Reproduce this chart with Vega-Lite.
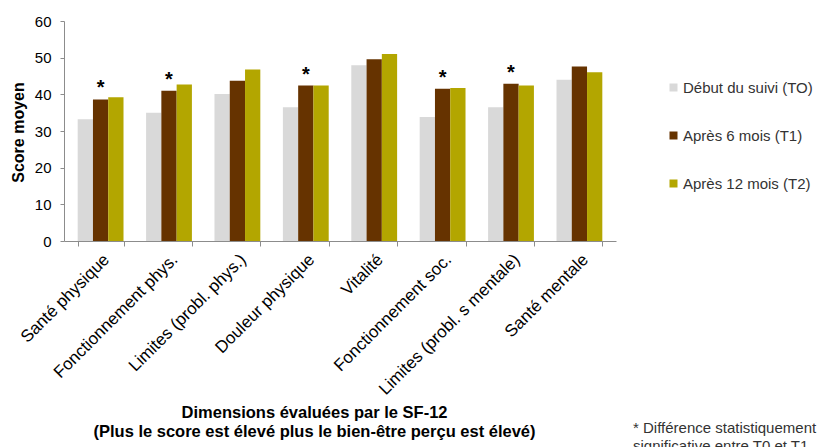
{
  "$schema": "https://vega.github.io/schema/vega-lite/v6.json",
  "width": 552,
  "height": 220,
  "autosize": {"type": "none"},
  "padding": {"left": 64, "top": 21, "right": 215, "bottom": 206},
  "background": "white",
  "config": {"font": "Liberation Sans", "view": {"stroke": null}},
  "title": {
    "text": ["* Différence statistiquement", "\u00a0\u00a0significative entre T0 et T1"],
    "orient": "bottom",
    "anchor": "start",
    "frame": "group",
    "align": "left",
    "dx": 569,
    "offset": -19,
    "fontSize": 15,
    "fontWeight": "normal",
    "color": "#333333",
    "lineHeight": 18
  },
  "data": {
    "values": [
      {"dim": "Santé physique", "temps": "Début du suivi (TO)", "score": 33.2, "sig": ""},
      {"dim": "Santé physique", "temps": "Après 6 mois (T1)", "score": 38.6, "sig": "*"},
      {"dim": "Santé physique", "temps": "Après 12 mois  (T2)", "score": 39.2, "sig": ""},
      {"dim": "Fonctionnement phys.", "temps": "Début du suivi (TO)", "score": 35.0, "sig": ""},
      {"dim": "Fonctionnement phys.", "temps": "Après 6 mois (T1)", "score": 41.0, "sig": "*"},
      {"dim": "Fonctionnement phys.", "temps": "Après 12 mois  (T2)", "score": 42.7, "sig": ""},
      {"dim": "Limites (probl. phys.)", "temps": "Début du suivi (TO)", "score": 40.1, "sig": ""},
      {"dim": "Limites (probl. phys.)", "temps": "Après 6 mois (T1)", "score": 43.7, "sig": ""},
      {"dim": "Limites (probl. phys.)", "temps": "Après 12 mois  (T2)", "score": 46.8, "sig": ""},
      {"dim": "Douleur physique", "temps": "Début du suivi (TO)", "score": 36.5, "sig": ""},
      {"dim": "Douleur physique", "temps": "Après 6 mois (T1)", "score": 42.4, "sig": "*"},
      {"dim": "Douleur physique", "temps": "Après 12 mois  (T2)", "score": 42.4, "sig": ""},
      {"dim": "Vitalité", "temps": "Début du suivi (TO)", "score": 47.9, "sig": ""},
      {"dim": "Vitalité", "temps": "Après 6 mois (T1)", "score": 49.6, "sig": ""},
      {"dim": "Vitalité", "temps": "Après 12 mois  (T2)", "score": 51.0, "sig": ""},
      {"dim": "Fonctionnement soc.", "temps": "Début du suivi (TO)", "score": 33.8, "sig": ""},
      {"dim": "Fonctionnement soc.", "temps": "Après 6 mois (T1)", "score": 41.5, "sig": "*"},
      {"dim": "Fonctionnement soc.", "temps": "Après 12 mois  (T2)", "score": 41.7, "sig": ""},
      {"dim": "Limites (probl. s mentale)", "temps": "Début du suivi (TO)", "score": 36.5, "sig": ""},
      {"dim": "Limites (probl. s mentale)", "temps": "Après 6 mois (T1)", "score": 42.9, "sig": "*"},
      {"dim": "Limites (probl. s mentale)", "temps": "Après 12 mois  (T2)", "score": 42.4, "sig": ""},
      {"dim": "Santé mentale", "temps": "Début du suivi (TO)", "score": 44.0, "sig": ""},
      {"dim": "Santé mentale", "temps": "Après 6 mois (T1)", "score": 47.6, "sig": ""},
      {"dim": "Santé mentale", "temps": "Après 12 mois  (T2)", "score": 46.0, "sig": ""}
    ]
  },
  "encoding": {
    "x": {
      "field": "dim",
      "type": "nominal",
      "sort": null,
      "scale": {"paddingInner": 0.33, "paddingOuter": 0.2},
      "axis": {
        "labelAngle": -45,
        "labelFontSize": 17,
        "labelColor": "#000000",
        "labelPadding": 5,
        "labelOverlap": false,
        "labelLimit": 300,
        "domainColor": "#8c8c8c",
        "tickColor": "#8c8c8c",
        "tickSize": 5,
        "tickBand": "extent",
        "title": ["Dimensions évaluées par le SF-12", "(Plus le score est élevé plus le bien-être perçu est élevé)"],
        "titleFontSize": 16.5,
        "titleFontWeight": "bold",
        "titleColor": "#000000",
        "titleX": 250,
        "titleY": 163,
        "titleAlign": "center",
        "titleBaseline": "top",
        "titleLineHeight": 19
      }
    },
    "y": {
      "field": "score",
      "type": "quantitative",
      "scale": {"domain": [0, 60], "nice": false},
      "axis": {
        "values": [0, 10, 20, 30, 40, 50, 60],
        "grid": false,
        "labelOverlap": false,
        "labelFontSize": 15,
        "labelColor": "#000000",
        "labelPadding": 9,
        "domainColor": "#8c8c8c",
        "tickColor": "#8c8c8c",
        "tickSize": 4,
        "title": "Score moyen",
        "titleFontSize": 16,
        "titleFontWeight": "bold",
        "titleColor": "#000000",
        "titleX": -46,
        "titleY": 111,
        "titleAlign": "center",
        "titleBaseline": "middle",
        "titleAngle": -90
      }
    }
  },
  "layer": [
    {
      "mark": {"type": "bar"},
      "encoding": {
        "xOffset": {"field": "temps", "type": "nominal", "sort": null},
        "color": {
          "field": "temps",
          "type": "nominal",
          "scale": {
            "domain": ["Début du suivi (TO)", "Après 6 mois (T1)", "Après 12 mois  (T2)"],
            "range": ["#d9d9d9", "#663300", "#b3a600"]
          },
          "legend": {
            "orient": "none",
            "legendX": 602,
            "legendY": 59,
            "title": null,
            "symbolType": "square",
            "symbolSize": 64,
            "symbolStrokeWidth": 0,
            "labelFontSize": 15,
            "labelColor": "#333333",
            "rowPadding": 32,
            "labelOffset": 2
          }
        }
      }
    },
    {
      "transform": [{"filter": "datum.sig == '*'"}],
      "mark": {"type": "text", "fontSize": 20, "fontWeight": "bold", "baseline": "bottom", "dy": -1, "color": "#000000"},
      "encoding": {
        "xOffset": {"field": "temps", "type": "nominal", "sort": null},
        "text": {"field": "sig"}
      }
    },
    {
      "data": {"values": [{"label": "n=47"}]},
      "mark": {"type": "text", "fontSize": 15, "align": "left", "baseline": "middle", "dx": 37, "color": "#333333"},
      "encoding": {
        "x": {"datum": "Santé mentale"},
        "y": {"datum": -15},
        "text": {"field": "label"}
      }
    }
  ]
}
